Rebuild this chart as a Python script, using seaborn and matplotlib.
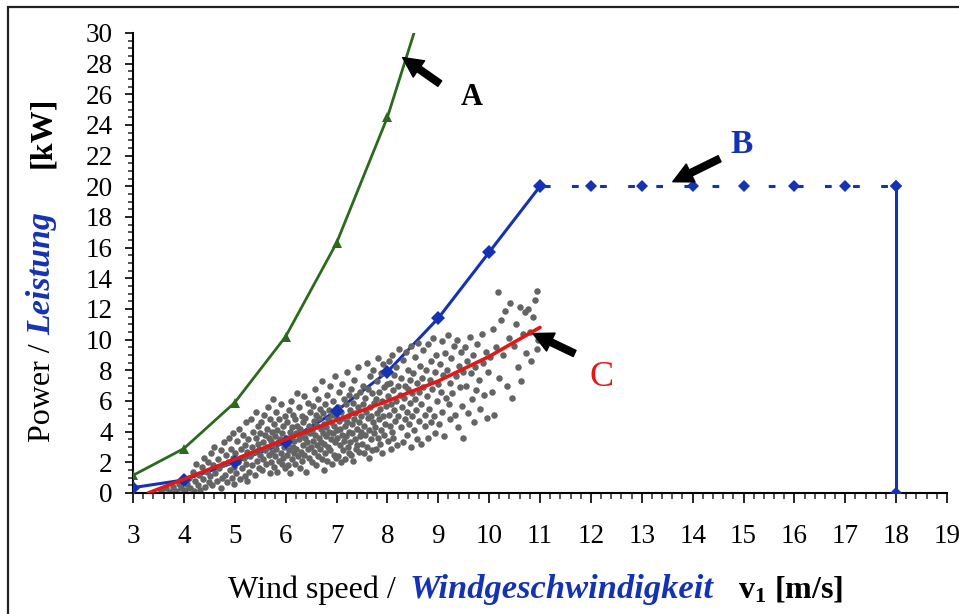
import matplotlib
matplotlib.use("Agg")
import matplotlib.pyplot as plt
from matplotlib.patches import Rectangle
from matplotlib.ticker import MultipleLocator
import seaborn as sns

sns.set_theme(style="ticks")
plt.rcParams["font.family"] = ["Liberation Serif", "DejaVu Serif"]
plt.rcParams["mathtext.fontset"] = "custom"
plt.rcParams["mathtext.rm"] = "Liberation Serif"
plt.rcParams["mathtext.bf"] = "Liberation Serif:bold"

# Kurve A (gruen, Dreiecke)
speed_a = [3, 4, 5, 6, 7, 8, 9]
power_a = [1.15, 2.9, 5.9, 10.2, 16.3, 24.5, 35.0]

# Kurve B (blau, Rauten)
speed_b = [3, 4, 5, 6, 7, 8, 9, 10, 11]
power_b = [0.35, 0.85, 2.0, 3.3, 5.35, 7.9, 11.4, 15.7, 20.0]
speed_b_rated = [11, 12, 13, 14, 15, 16, 17, 18]
power_b_rated = [20, 20, 20, 20, 20, 20, 20, 20]
speed_b_cutout = [18, 18]
power_b_cutout = [20, 0]

# Kurve C (rot, Trend der Messwerte)
speed_c = [3.3, 4, 5, 6, 7, 8, 9, 10, 11]
power_c = [0.0, 0.9, 2.2, 3.5, 4.75, 6.0, 7.3, 8.9, 10.8]

# Messpunkte (v1, P)
messwerte = [
    (3.55, 0.1), (3.65, 0.3), (3.72, 0.05),
    (3.78, 0.4), (3.85, 0.15), (3.9, 0.6), (3.95, 0.3), (3.98, 0.9),
    (4.02, 0.2), (4.06, 0.6), (4.1, 1.0), (4.13, 0.35), (4.17, 1.4), (4.2, 0.1), (4.22, 0.8), (4.24, 1.9),
    (4.27, 0.5), (4.3, 1.2), (4.32, 0.2), (4.35, 1.7), (4.38, 0.9), (4.4, 2.3), (4.42, 0.4), (4.45, 1.4),
    (4.47, 2.0), (4.49, 0.7),
    (4.51, 1.1), (4.53, 2.6), (4.56, 0.5), (4.58, 1.8), (4.6, 3.0), (4.62, 1.3), (4.65, 0.8), (4.67, 2.2),
    (4.7, 1.6), (4.72, 0.3), (4.73, 2.8), (4.74, 1.0),
    (4.76, 1.9), (4.78, 3.3), (4.8, 1.2), (4.82, 2.5), (4.84, 0.7), (4.86, 2.0), (4.88, 3.6), (4.9, 1.5),
    (4.92, 2.9), (4.94, 1.0), (4.96, 2.3), (4.97, 3.9), (4.98, 1.7), (4.99, 0.6),
    (5.01, 2.6), (5.03, 1.3), (5.05, 3.4), (5.07, 2.0), (5.09, 4.2), (5.1, 0.9), (5.12, 2.9), (5.14, 1.6),
    (5.16, 3.8), (5.18, 2.3), (5.2, 1.1), (5.21, 3.1), (5.22, 4.6), (5.23, 1.9), (5.24, 2.7), (5.25, 0.8),
    (5.27, 3.5), (5.28, 1.4), (5.3, 2.4), (5.31, 4.8), (5.33, 3.0), (5.34, 1.8), (5.36, 4.0), (5.38, 2.7),
    (5.4, 1.2), (5.41, 3.6), (5.42, 5.3), (5.44, 2.1), (5.45, 4.4), (5.46, 3.2), (5.47, 1.6), (5.48, 2.9),
    (5.49, 3.9), (5.5, 2.5),
    (5.52, 4.6), (5.53, 1.5), (5.55, 3.3), (5.56, 2.2), (5.58, 5.1), (5.59, 3.8), (5.6, 2.8), (5.62, 1.9),
    (5.63, 4.2), (5.64, 3.0), (5.66, 5.6), (5.67, 2.5), (5.68, 3.6), (5.69, 1.3), (5.7, 4.8), (5.71, 2.0),
    (5.72, 3.4), (5.73, 4.0), (5.74, 2.7), (5.75, 6.1),
    (5.76, 3.1), (5.77, 1.7), (5.78, 4.5), (5.79, 2.4), (5.8, 3.7), (5.81, 5.3), (5.82, 2.9), (5.83, 1.4),
    (5.84, 4.1), (5.85, 3.3), (5.86, 2.1), (5.87, 4.8), (5.88, 3.5), (5.9, 2.6), (5.91, 5.8), (5.92, 1.9),
    (5.93, 3.9), (5.94, 4.4), (5.95, 2.3), (5.96, 3.0), (5.98, 5.0), (5.99, 1.6),
    (6.01, 3.6), (6.02, 2.5), (6.03, 4.6), (6.04, 1.8), (6.05, 3.2), (6.06, 5.4), (6.07, 2.8), (6.08, 4.0),
    (6.09, 1.3), (6.1, 3.7), (6.11, 6.0), (6.12, 2.2), (6.13, 4.3), (6.14, 3.0), (6.15, 5.1), (6.16, 2.6),
    (6.17, 3.4), (6.18, 4.8), (6.19, 1.9), (6.2, 3.9), (6.21, 2.9), (6.22, 6.5), (6.23, 4.4), (6.24, 2.4),
    (6.26, 3.5), (6.27, 5.6), (6.28, 1.6), (6.29, 4.2), (6.3, 2.7), (6.31, 3.8), (6.32, 5.0), (6.33, 2.1),
    (6.34, 4.6), (6.35, 3.1), (6.36, 6.3), (6.37, 2.5), (6.38, 3.6), (6.39, 4.9), (6.4, 1.4), (6.41, 4.0),
    (6.42, 3.3), (6.43, 5.9), (6.44, 2.9), (6.45, 4.4), (6.46, 2.3), (6.47, 3.9), (6.48, 5.3), (6.49, 3.0),
    (6.51, 4.1), (6.52, 2.0), (6.53, 5.7), (6.54, 3.4), (6.55, 4.7), (6.56, 2.7), (6.57, 6.8), (6.58, 3.8),
    (6.59, 1.8), (6.6, 5.1), (6.61, 3.1), (6.62, 4.4), (6.63, 2.4), (6.64, 6.1), (6.65, 3.6), (6.66, 4.9),
    (6.67, 2.9), (6.68, 5.5), (6.69, 3.3), (6.7, 4.2), (6.71, 7.3), (6.72, 2.2), (6.73, 3.9), (6.74, 5.2),
    (6.745, 1.5), (6.75, 4.5),
    (6.76, 3.2), (6.77, 5.8), (6.78, 2.6), (6.79, 4.3), (6.8, 3.7), (6.81, 6.4), (6.82, 2.1), (6.83, 4.8),
    (6.84, 3.0), (6.85, 5.4), (6.86, 4.0), (6.87, 2.8), (6.88, 7.0), (6.89, 3.5), (6.9, 4.6), (6.91, 1.9),
    (6.92, 5.1), (6.93, 3.9), (6.94, 6.0), (6.95, 2.5), (6.96, 4.4), (6.97, 3.3), (6.98, 7.6), (6.99, 5.0),
    (6.995, 2.3), (7.0, 4.1),
    (7.01, 3.6), (7.02, 5.6), (7.03, 2.4), (7.04, 4.7), (7.05, 6.6), (7.06, 3.1), (7.07, 4.2), (7.08, 2.0),
    (7.09, 5.3), (7.1, 3.8), (7.11, 7.1), (7.12, 2.8), (7.13, 4.9), (7.14, 3.4), (7.15, 6.1), (7.16, 4.4),
    (7.17, 2.2), (7.18, 5.8), (7.19, 3.7), (7.2, 4.6), (7.21, 7.9), (7.22, 3.0), (7.23, 5.0), (7.24, 2.6),
    (7.245, 6.4), (7.25, 4.0),
    (7.26, 5.4), (7.27, 3.3), (7.28, 6.8), (7.29, 2.5), (7.3, 4.5), (7.31, 3.9), (7.32, 5.9), (7.33, 2.1),
    (7.34, 4.8), (7.35, 7.4), (7.36, 3.5), (7.37, 5.2), (7.38, 2.9), (7.39, 6.3), (7.4, 4.2), (7.41, 3.1),
    (7.42, 5.6), (7.43, 8.2), (7.44, 2.7), (7.45, 4.6), (7.46, 6.6), (7.47, 3.7), (7.48, 5.0), (7.49, 4.0),
    (7.51, 3.2), (7.52, 5.8), (7.53, 7.0), (7.54, 2.6), (7.55, 4.4), (7.56, 6.2), (7.57, 3.8), (7.58, 5.3),
    (7.59, 8.5), (7.6, 3.0), (7.61, 4.9), (7.62, 6.8), (7.63, 2.3), (7.64, 4.1), (7.65, 5.6), (7.66, 7.6),
    (7.67, 3.5), (7.68, 5.0), (7.69, 6.5), (7.7, 2.8), (7.71, 4.6), (7.72, 8.0), (7.73, 3.9), (7.74, 5.9),
    (7.76, 4.3), (7.77, 6.1), (7.78, 2.9), (7.79, 7.3), (7.8, 5.2), (7.81, 3.6), (7.82, 8.8), (7.83, 4.8),
    (7.84, 6.6), (7.85, 3.2), (7.86, 5.5), (7.87, 7.8), (7.88, 4.1), (7.89, 2.6), (7.9, 6.0), (7.91, 5.0),
    (7.92, 8.4), (7.93, 3.8), (7.94, 6.9), (7.95, 4.5), (7.97, 5.7), (7.99, 7.1),
    (8.01, 3.4), (8.02, 6.3), (8.03, 5.1), (8.04, 8.6), (8.05, 4.4), (8.06, 7.2), (8.07, 2.9), (8.08, 5.8),
    (8.09, 9.0), (8.1, 4.0), (8.11, 6.7), (8.12, 3.6), (8.13, 7.7), (8.14, 5.4), (8.15, 4.7), (8.16, 8.2),
    (8.17, 6.0), (8.18, 3.1), (8.2, 7.0), (8.21, 5.0), (8.23, 9.4), (8.24, 6.4),
    (8.26, 4.3), (8.27, 7.5), (8.28, 5.6), (8.3, 3.3), (8.31, 8.7), (8.32, 6.2), (8.34, 4.8), (8.35, 7.0),
    (8.36, 9.2), (8.38, 5.3), (8.39, 3.8), (8.4, 6.8), (8.41, 8.0), (8.42, 4.5), (8.44, 5.9), (8.45, 7.4),
    (8.46, 3.0), (8.47, 9.6), (8.48, 6.5), (8.49, 5.0),
    (8.51, 7.8), (8.52, 4.1), (8.54, 6.1), (8.55, 8.9), (8.56, 5.4), (8.58, 3.5), (8.59, 7.2), (8.6, 9.8),
    (8.62, 6.6), (8.63, 4.7), (8.64, 8.3), (8.66, 5.8), (8.67, 3.2), (8.68, 7.5), (8.7, 6.9), (8.71, 9.3),
    (8.73, 5.1), (8.74, 4.4),
    (8.76, 8.0), (8.77, 6.3), (8.79, 3.6), (8.8, 9.7), (8.82, 5.5), (8.83, 7.4), (8.85, 4.6), (8.86, 8.6),
    (8.88, 6.8), (8.89, 10.1), (8.91, 5.0), (8.93, 7.9), (8.94, 3.9), (8.96, 9.0), (8.97, 6.0), (8.99, 7.1),
    (9.01, 4.5), (9.03, 8.4), (9.05, 6.6), (9.07, 9.9), (9.08, 5.3), (9.1, 7.7), (9.12, 3.7), (9.14, 9.1),
    (9.16, 6.2), (9.18, 8.0), (9.19, 10.3), (9.21, 5.8), (9.23, 7.2), (9.24, 4.8),
    (9.26, 8.8), (9.28, 6.5), (9.3, 9.6), (9.32, 5.1), (9.34, 7.6), (9.36, 10.0), (9.38, 4.3), (9.4, 8.3),
    (9.42, 6.9), (9.44, 9.2), (9.46, 5.7), (9.48, 7.9), (9.49, 3.6),
    (9.52, 9.5), (9.54, 7.0), (9.57, 8.6), (9.59, 5.2), (9.62, 10.2), (9.64, 7.8), (9.66, 6.1), (9.69, 9.0),
    (9.71, 4.6), (9.73, 8.2), (9.74, 6.7),
    (9.77, 9.7), (9.8, 7.4), (9.83, 5.5), (9.86, 10.4), (9.88, 8.5), (9.9, 6.4), (9.93, 9.2), (9.95, 4.9),
    (9.98, 7.9),
    (10.02, 8.9), (10.05, 6.6), (10.08, 10.7), (10.1, 5.1), (10.13, 9.5), (10.17, 13.1), (10.2, 7.5),
    (10.23, 11.3),
    (10.28, 9.0), (10.31, 11.9), (10.35, 7.0), (10.39, 10.1), (10.42, 12.4), (10.45, 6.2), (10.48, 9.6),
    (10.53, 11.0), (10.56, 8.2), (10.6, 12.1), (10.63, 7.3), (10.67, 10.4), (10.7, 11.8), (10.73, 9.1),
    (10.77, 12.0), (10.8, 10.5), (10.83, 8.6), (10.87, 11.5), (10.9, 12.6), (10.94, 13.2), (10.95, 9.4),
    (10.97, 10.0),
]
mess_speed = [p[0] for p in messwerte]
mess_power = [p[1] for p in messwerte]

x_ticks = list(range(3, 20))
y_ticks = list(range(0, 31, 2))

GREEN = "#2b6a1c"
BLUE = "#1432b4"
RED = "#e51616"
GRAY = "#646464"

W, H = 959, 614
fig = plt.figure(figsize=(W / 100, H / 100), dpi=100)
ax = fig.add_axes([133 / W, 1 - 493 / H, (947 - 133) / W, (493 - 33) / H])

# Rahmen um die Grafik
fig.patches.append(Rectangle((8 / W, -0.5), 2, 1.5 - 7 / H, transform=fig.transFigure,
                             fill=False, edgecolor="#222222", lw=1.6))

# Kurve B unter den Messpunkten
sns.lineplot(x=speed_b, y=power_b, color=BLUE, lw=2.2, ax=ax, zorder=2, sort=False, estimator=None)
sns.scatterplot(x=mess_speed, y=mess_power, color=GRAY, s=22, linewidth=0, ax=ax, zorder=2.5, legend=False)
sns.lineplot(x=speed_b, y=power_b, color=BLUE, lw=0, marker="D", markersize=7, markeredgewidth=0,
             ax=ax, zorder=3, sort=False, estimator=None)
sns.lineplot(x=speed_b_rated, y=power_b_rated, color=BLUE, lw=2.2, ls=(-1.1, (2.2, 7.0)), marker="D",
             markersize=6.5, markeredgewidth=0, ax=ax, zorder=3, sort=False, estimator=None)
sns.lineplot(x=speed_b_cutout, y=power_b_cutout, color=BLUE, lw=2.2, marker="D", markersize=6.5,
             markeredgewidth=0, ax=ax, zorder=3, sort=False, estimator=None)

sns.lineplot(x=speed_a, y=power_a, color=GREEN, lw=2.0, marker="^", markersize=7.5, markeredgewidth=0,
             ax=ax, zorder=3, sort=False, estimator=None)
sns.lineplot(x=speed_c, y=power_c, color=RED, lw=2.6, ax=ax, zorder=4, sort=False, estimator=None)

ax.set_xlim(3, 19)
ax.set_ylim(0, 30)
ax.set_xticks(x_ticks)
ax.set_yticks(y_ticks)
ax.xaxis.set_minor_locator(MultipleLocator(0.2))
ax.yaxis.set_minor_locator(MultipleLocator(0.5))
ax.tick_params(axis="x", which="major", direction="out", length=7, width=1.2, pad=15,
               labelsize=19.5, colors="black")
ax.tick_params(axis="x", which="minor", direction="out", length=4, width=1.1)
ax.tick_params(axis="y", which="major", direction="out", length=5.5, width=1.2, pad=9,
               labelsize=19.5, colors="black")
ax.tick_params(axis="y", which="minor", direction="out", length=3.5, width=1.1)
for side in ["top", "right"]:
    ax.spines[side].set_visible(False)
for side in ["left", "bottom"]:
    ax.spines[side].set_color("black")
    ax.spines[side].set_linewidth(1.5)
ax.set_facecolor("white")

# Beschriftungen A, B, C mit Pfeilen
pfeil = dict(arrowstyle="simple,head_length=0.65,head_width=0.65,tail_width=0.22",
             color="black", shrinkA=0, shrinkB=0, mutation_scale=22)
ax.annotate("", xy=(8.30, 28.4), xytext=(9.03, 26.7), arrowprops=pfeil, annotation_clip=False)
ax.annotate("", xy=(13.61, 20.3), xytext=(14.53, 21.8), arrowprops=pfeil, annotation_clip=False)
ax.annotate("", xy=(10.86, 10.4), xytext=(11.68, 9.1), arrowprops=pfeil, annotation_clip=False)
ax.text(9.66, 25.8, "A", fontsize=22, fontweight="bold", color="black", ha="center", va="center")
ax.text(14.96, 22.7, "B", fontsize=24, fontweight="bold", color=BLUE, ha="center", va="center")
ax.text(12.21, 7.5, "C", fontsize=26, color=RED, ha="center", va="center")

# Achsentitel aus mehreren Teilen
renderer = fig.canvas.get_renderer()


def zeile(x_px, y_px, teile):
    for text, abstand, kw in teile:
        t = fig.text(x_px / W, 1 - y_px / H, text, ha="left", va="baseline", **kw)
        x_px += t.get_window_extent(renderer).width + abstand


def spalte(x_px, y_px, teile):
    for text, abstand, kw in teile:
        t = fig.text(x_px / W, 1 - y_px / H, text, ha="left", va="baseline", rotation=90,
                     rotation_mode="anchor", **kw)
        y_px -= t.get_window_extent(renderer).height + abstand


zeile(228, 598, [
    ("Wind speed /", 14, dict(fontsize=23, color="black")),
    ("Windgeschwindigkeit", 24, dict(fontsize=24.8, color=BLUE, fontweight="bold", fontstyle="italic")),
    (r"$\mathbf{v_1}$ [m/s]", 0, dict(fontsize=23, color="black", fontweight="bold")),
])
spalte(50, 442, [
    ("Power /", 8, dict(fontsize=23, color="black")),
    ("Leistung", 45, dict(fontsize=24.5, color=BLUE, fontweight="bold", fontstyle="italic")),
    ("[kW]", 0, dict(fontsize=23, color="black", fontweight="bold")),
])

fig.savefig("out.png", dpi=100, facecolor="white")
